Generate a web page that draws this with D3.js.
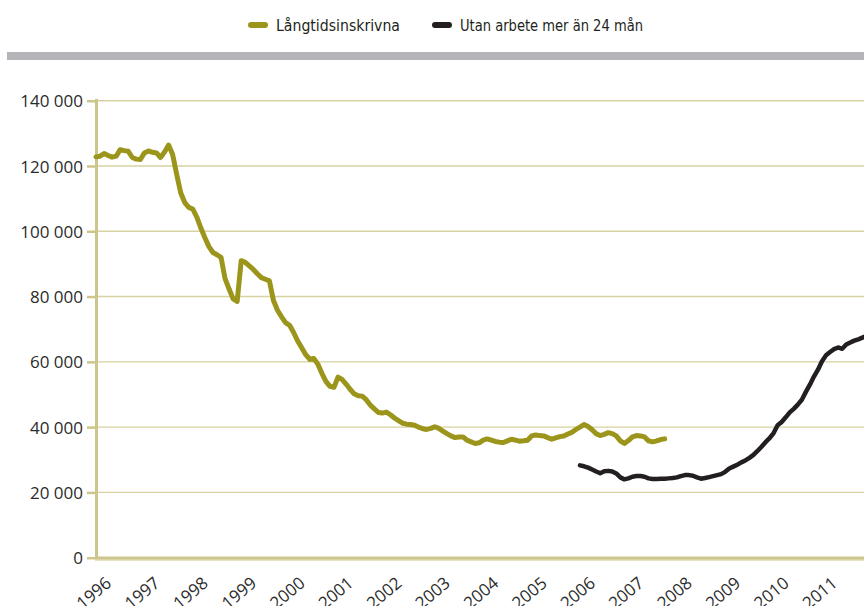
<!DOCTYPE html>
<html>
<head>
	<meta charset="utf-8">
	<title>Långtidsinskrivna</title>
	<script src="https://d3js.org/d3.v7.min.js"></script>
	<style>
		html, body { margin: 0; padding: 0; background: #fff; overflow: hidden; }
		svg { display: block; }
		.legend text { font-family: "Liberation Sans Narrow", "DejaVu Sans Condensed", "Roboto Condensed", sans-serif; font-size: 16px; fill: #231f20; }
		.tick text { font-family: "Open Sans", "Noto Sans", sans-serif; font-size: 17px; fill: #2b2b2b; }
	</style>
</head>
<body>
	<svg id="chart" width="864" height="606"></svg>
<script type="text/javascript">
	// years on the x axis
	var years = ['1996', '1997', '1998', '1999', '2000', '2001', '2002', '2003',
		'2004', '2005', '2006', '2007', '2008', '2009', '2010', '2011'];
	var yTicks = [0, 20000, 40000, 60000, 80000, 100000, 120000, 140000];

	// Långtidsinskrivna, monthly from Jan 1996 (thousands)
	var langStart = 0;
	var langtid = [
		122.8, 123.0, 123.8, 123.2, 122.7, 123.0, 125.0, 124.7, 124.5, 122.6, 122.1, 122.0,
		124.0, 124.6, 124.2, 124.0, 122.6, 124.3, 126.4, 123.5, 117.5, 111.8, 108.8, 107.3,
		106.8, 104.3, 101.0, 98.0, 95.3, 93.5, 92.8, 92.0, 85.5, 82.3, 79.3, 78.5,
		91.0, 90.5, 89.4, 88.3, 87.0, 85.8, 85.3, 84.8, 78.8, 75.8, 73.8, 72.0,
		71.2, 69.0, 66.4, 64.3, 62.2, 60.8, 61.0, 59.3, 56.5, 54.0, 52.5, 52.2,
		55.3, 54.6, 53.2, 51.6, 50.2, 49.6, 49.5, 48.4, 46.8, 45.6, 44.5, 44.3,
		44.6, 43.8, 42.8, 42.0, 41.2, 40.9, 40.8, 40.6, 40.0, 39.5, 39.3, 39.6,
		40.1, 39.6, 38.8, 38.0, 37.3, 36.8, 37.0, 37.0, 36.0, 35.5, 35.0, 35.2,
		36.0, 36.4, 36.0, 35.6, 35.4, 35.3, 35.8, 36.3, 36.0, 35.7, 35.8, 36.0,
		37.3, 37.6, 37.4, 37.3, 36.8, 36.3, 36.7, 37.1, 37.3, 37.9, 38.4, 39.3,
		40.0, 40.8, 40.2, 39.2, 38.0, 37.4, 37.8, 38.3, 38.0, 37.3, 35.8, 35.0,
		35.9, 37.0, 37.4, 37.3, 37.0, 35.8, 35.5, 35.8, 36.2, 36.4
	];

	// Utan arbete mer än 24 mån, monthly from Jan 2006 (thousands)
	var utanStart = 120;
	var utan = [
		28.3, 28.0, 27.6, 27.0, 26.4, 25.9, 26.5, 26.6, 26.4, 25.8, 24.6, 24.0,
		24.3, 24.8, 25.0, 25.0, 24.8, 24.3, 24.1, 24.1, 24.2, 24.2, 24.3, 24.4,
		24.6, 25.0, 25.3, 25.3, 25.1, 24.6, 24.2, 24.4, 24.7, 25.0, 25.3, 25.6,
		26.3, 27.3, 27.9, 28.5, 29.2, 29.8, 30.6, 31.5, 32.7, 34.0, 35.4, 36.6,
		38.2, 40.6, 41.6, 43.0, 44.5, 45.6, 46.9, 48.4, 50.8, 53.0, 55.5, 57.6,
		60.2, 62.0, 63.0, 63.9, 64.4, 64.0, 65.3, 65.9, 66.5, 66.9, 67.4, 67.9
	];

	var GREEN = '#9b951c';
	var BLACK = '#231f20';
	var GRID = '#d8d2a2';
	var AXIS = '#cdc68a';

	var svg = d3.select('#chart');

	var x = d3.scaleLinear().domain([0, years.length * 12]).range([96, 96 + years.length * 48.4]);
	var y = d3.scaleLinear().domain([0, 140000]).range([557.7, 100.7]);

	var fmt = d3.formatLocale({ decimal: ',', thousands: '\u00a0', grouping: [3], currency: ['', ' kr'] }).format(',d');

	// grey band under legend
	svg.append('rect')
		.attr('x', 7).attr('y', 52)
		.attr('width', 857).attr('height', 8)
		.attr('fill', '#b3b4b7');

	// legend
	var legend = svg.append('g').attr('class', 'legend');
	var items = [
		{ name: 'Långtidsinskrivna', color: GREEN, x: 248, w: 124 },
		{ name: 'Utan arbete mer än 24 mån', color: BLACK, x: 432, w: 183 }
	];
	items.forEach(function(d) {
		legend.append('rect')
			.attr('x', d.x).attr('y', 22)
			.attr('width', 20).attr('height', 6)
			.attr('rx', 3).attr('ry', 3)
			.attr('fill', d.color);
		legend.append('text')
			.attr('x', d.x + 28).attr('y', 31)
			.attr('textLength', d.w)
			.attr('lengthAdjust', 'spacingAndGlyphs')
			.text(d.name);
	});

	// horizontal grid
	svg.append('g')
		.selectAll('line')
		.data(yTicks.filter(function(t) { return t > 0; }))
		.join('line')
		.attr('x1', 96).attr('x2', 864)
		.attr('y1', function(d) { return y(d); })
		.attr('y2', function(d) { return y(d); })
		.attr('stroke', GRID)
		.attr('stroke-width', 1.4);

	// y axis
	var yAxis = svg.append('g')
		.attr('transform', 'translate(96,0)')
		.call(d3.axisLeft(y).tickValues(yTicks).tickFormat(fmt).tickSize(9).tickPadding(4));
	yAxis.select('.domain').remove();
	yAxis.selectAll('.tick line').attr('stroke', AXIS).attr('stroke-width', 2.5);
	yAxis.selectAll('.tick text').attr('dy', '0.36em');

	svg.append('line')
		.attr('x1', 96.5).attr('x2', 96.5)
		.attr('y1', 99).attr('y2', 559)
		.attr('stroke', AXIS).attr('stroke-width', 3);

	// x axis
	svg.append('line')
		.attr('x1', 95).attr('x2', 864)
		.attr('y1', 559).attr('y2', 559)
		.attr('stroke', '#e6e2c4').attr('stroke-width', 4);
	svg.append('line')
		.attr('x1', 95).attr('x2', 864)
		.attr('y1', 558).attr('y2', 558)
		.attr('stroke', AXIS).attr('stroke-width', 3);

	var xAxis = svg.append('g')
		.attr('class', 'xaxis')
		.attr('transform', 'translate(0,558)')
		.call(d3.axisBottom(x).tickValues(years.map(function(d, i) { return i * 12; }))
			.tickFormat(function(d) { return years[d / 12]; }).tickSize(0));
	xAxis.select('.domain').remove();
	xAxis.selectAll('.tick text')
		.attr('text-anchor', 'end')
		.attr('transform', 'translate(16,27) rotate(-40)')
		.attr('dy', 0).attr('y', 0).attr('x', 0);

	// lines
	var line = d3.line()
		.x(function(d) { return x(d[0]); })
		.y(function(d) { return y(d[1] * 1000); });

	svg.append('path')
		.datum(langtid.map(function(v, i) { return [langStart + i, v]; }))
		.attr('d', line)
		.attr('fill', 'none')
		.attr('stroke', GREEN)
		.attr('stroke-width', 5)
		.attr('stroke-linejoin', 'round')
		.attr('stroke-linecap', 'round');

	svg.append('path')
		.datum(utan.map(function(v, i) { return [utanStart + i, v]; }))
		.attr('d', line)
		.attr('fill', 'none')
		.attr('stroke', BLACK)
		.attr('stroke-width', 4.5)
		.attr('stroke-linejoin', 'round')
		.attr('stroke-linecap', 'round');
</script>
</body>
</html>
